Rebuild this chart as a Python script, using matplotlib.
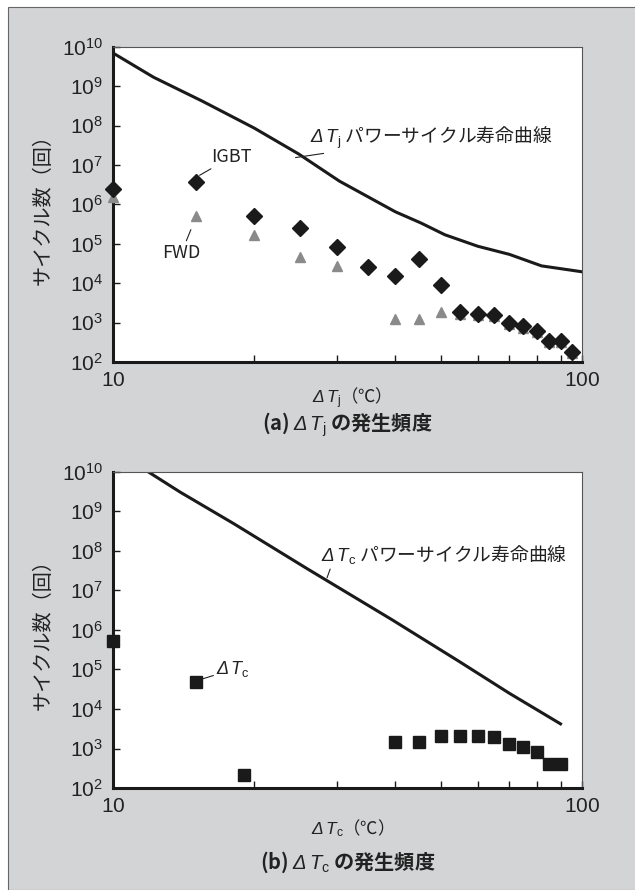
import numpy as np
import matplotlib
matplotlib.use('Agg')
import matplotlib.pyplot as plt
from matplotlib.patches import Rectangle
from matplotlib.ticker import FixedLocator, FuncFormatter, NullFormatter

plt.rcParams['font.family'] = ['Noto Sans CJK JP', 'DejaVu Sans']
plt.rcParams['mathtext.fontset'] = 'custom'
plt.rcParams['mathtext.rm'] = 'Liberation Sans'
plt.rcParams['mathtext.it'] = 'Liberation Sans:italic'
plt.rcParams['mathtext.sf'] = 'Liberation Sans:italic'

# (a) ΔTj
tj_x = [10, 15, 20, 25, 30, 35, 40, 45, 50, 55, 60, 65, 70, 75, 80, 85, 90, 95]
igbt = [2.5e6, 3.8e6, 5e5, 2.5e5, 8.5e4, 2.6e4, 1.5e4, 4.2e4, 8.8e3,
        1.9e3, 1.7e3, 1.6e3, 950, 820, 620, 340, 340, 180]
fwd_x = [10, 15, 20, 25, 30, 40, 45, 50, 55, 60, 65, 70, 75, 80, 85, 90, 95]
fwd = [1.5e6, 5e5, 1.7e5, 4.7e4, 2.8e4, 1.26e3, 1.25e3, 1.9e3,
       1.7e3, 1.6e3, 1.5e3, 900, 750, 560, 320, 320, 170]
life_j_x = [10, 12.2, 15.5, 20, 24.9, 30.4, 40, 45.3, 51, 59.9, 70, 82, 100]
life_j = [7e9, 1.7e9, 4.2e8, 8.7e7, 1.9e7, 3.9e6, 6.5e5, 3.4e5, 1.7e5,
          8.7e4, 5.4e4, 2.75e4, 1.95e4]

# (b) ΔTc
tc_x = [10, 15, 19, 40, 45, 50, 55, 60, 65, 70, 75, 80, 85, 90]
tc = [5.2e5, 4.8e4, 210, 1.5e3, 1.5e3, 2.1e3, 2.1e3, 2.1e3, 2.0e3,
      1.3e3, 1.07e3, 820, 410, 410]
life_c_x = [11.9, 13.9, 18.1, 25.9, 39.4, 54.7, 70, 90]
life_c = [1e10, 3.1e9, 4.9e8, 3.6e7, 1.8e6, 1.6e5, 2.5e4, 4.2e3]

TJ = r'$\mathsf{Δ}\,\mathit{T}_\mathrm{j}$'
TC = r'$\mathsf{Δ}\,\mathit{T}_\mathrm{c}$'
ink = '#222222'

bg = '#d3d4d6'
fig = plt.figure(figsize=(6.35, 8.9), dpi=100)
fig.patch.set_facecolor('white')
frame = Rectangle((8/635, 0), 1, 1 - 7/890, transform=fig.transFigure,
                  facecolor=bg, edgecolor='#666666', lw=0.8, zorder=-10)
fig.add_artist(frame)

L, W = 113/635, 469/635
cx = L + W / 2


def setup(ax):
    ax.set_xscale('log')
    ax.set_yscale('log')
    ax.set_xlim(10, 100)
    ax.set_ylim(1e2, 1e10)
    ax.set_facecolor('white')
    for s in ['left', 'bottom']:
        ax.spines[s].set_linewidth(2.2)
        ax.spines[s].set_color('#1a1a1a')
    for s in ['top', 'right']:
        ax.spines[s].set_linewidth(0.8)
        ax.spines[s].set_color('#555555')
    ax.yaxis.set_major_locator(FixedLocator([10.0**k for k in range(2, 11)]))
    ax.yaxis.set_minor_locator(FixedLocator([]))
    ax.yaxis.set_major_formatter(FuncFormatter(lambda v, p: r'$\mathrm{10^{%d}}$' % round(np.log10(v))))
    ax.xaxis.set_major_locator(FixedLocator([10, 100]))
    ax.xaxis.set_minor_locator(FixedLocator([20, 30, 40, 50, 60, 70, 80, 90]))
    ax.xaxis.set_major_formatter(FuncFormatter(lambda v, p: r'$\mathrm{%d}$' % v))
    ax.xaxis.set_minor_formatter(NullFormatter())
    ax.tick_params(which='both', direction='in', length=5, width=1, color='#1a1a1a',
                   top=False, right=False, labelsize=15, labelcolor=ink)
    ax.tick_params(axis='y', pad=7)
    ax.tick_params(axis='x', pad=5)
    ax.set_ylabel('サイクル数（回）', fontsize=14.5, color=ink, labelpad=6)


ax1 = fig.add_axes([L, 0.5933, W, 0.354])
setup(ax1)
ax1.plot(life_j_x, life_j, color='#1a1a1a', lw=2.2)
ax1.plot(fwd_x, fwd, linestyle='none', marker='^', ms=7, color='#8a8a8a', clip_on=False, zorder=3)
ax1.plot(tj_x, igbt, linestyle='none', marker='D', ms=8.5, color='#1a1a1a', clip_on=False, zorder=4)
ax1.annotate(TJ + ' パワーサイクル寿命曲線', xy=(24.5, 1.55e7), xytext=(26.3, 5e7),
             fontsize=13.5, color=ink, va='center',
             arrowprops=dict(arrowstyle='-', color=ink, lw=0.8, shrinkA=0, shrinkB=0))
ax1.annotate('IGBT', xy=(15.3, 5.5e6), xytext=(16.2, 1.6e7), fontsize=13, color=ink, va='center',
             arrowprops=dict(arrowstyle='-', color=ink, lw=0.8, shrinkA=0, shrinkB=0))
ax1.annotate('FWD', xy=(15.0, 4.5e5), xytext=(14.0, 6e4), fontsize=13, color=ink,
             va='center', ha='center',
             arrowprops=dict(arrowstyle='-', color=ink, lw=0.8, shrinkA=0, shrinkB=9))
fig.text(cx, 1 - 398/890, TJ + '（℃）', ha='center', va='center', fontsize=12.5, color=ink)
fig.text(cx, 1 - 425/890, '(a) ' + TJ + ' の発生頻度', ha='center', va='center',
         fontsize=14.5, color=ink, fontweight='bold')

ax2 = fig.add_axes([L, 0.1146, W, 0.3551])
setup(ax2)
ax2.plot(life_c_x, life_c, color='#1a1a1a', lw=2.2)
ax2.plot(tc_x, tc, linestyle='none', marker='s', ms=8, color='#1a1a1a', clip_on=False, zorder=4)
ax2.annotate(TC + ' パワーサイクル寿命曲線', xy=(28.6, 2.1e7), xytext=(27.7, 8e7),
             fontsize=13.5, color=ink, va='center',
             arrowprops=dict(arrowstyle='-', color=ink, lw=0.8, shrinkA=0, shrinkB=0,
                             relpos=(0.05, 0.2)))
ax2.annotate(TC, xy=(15.3, 5.5e4), xytext=(16.6, 1.0e5), fontsize=13,
             color=ink, va='center',
             arrowprops=dict(arrowstyle='-', color=ink, lw=0.8, shrinkA=0, shrinkB=0))
fig.text(cx, 1 - 828/890, TC + '（℃）', ha='center', va='center', fontsize=12.5, color=ink)
fig.text(cx, 1 - 862/890, '(b) ' + TC + ' の発生頻度', ha='center', va='center',
         fontsize=14.5, color=ink, fontweight='bold')

fig.savefig('out.png', dpi=100, facecolor=fig.get_facecolor())
